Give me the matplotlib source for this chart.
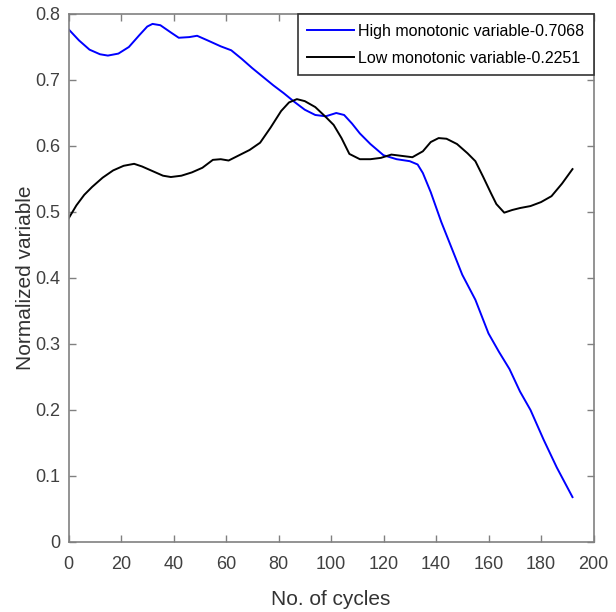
import matplotlib.pyplot as plt

# values
high_x = [0, 4, 8, 12, 15, 19, 23, 27, 30, 32, 35, 39, 42, 46, 49, 53, 58, 62,
          66, 70, 74, 78, 82, 86, 90, 94, 98, 102, 105, 108, 111, 115, 120, 125,
          130, 133, 135, 138, 142, 146, 150, 155, 160, 164, 168, 172, 176, 181,
          186, 192]
high_y = [0.777, 0.760, 0.746, 0.739, 0.737, 0.740, 0.750, 0.768, 0.781, 0.785,
          0.783, 0.772, 0.764, 0.765, 0.767, 0.760, 0.751, 0.745, 0.732, 0.718,
          0.705, 0.692, 0.680, 0.667, 0.655, 0.647, 0.645, 0.650, 0.647, 0.634,
          0.619, 0.603, 0.586, 0.580, 0.577, 0.572, 0.559, 0.530, 0.485, 0.445,
          0.405, 0.367, 0.316, 0.288, 0.262, 0.228, 0.200, 0.155, 0.113, 0.068]

low_x = [0, 3, 6, 9, 13, 17, 21, 25, 28, 32, 36, 39, 43, 47, 51, 55, 58, 61, 65,
         69, 73, 77, 81, 84, 87, 90, 94, 98, 101, 104, 107, 111, 115, 119, 123,
         127, 131, 135, 138, 141, 144, 148, 152, 155, 158, 161, 163, 166, 169,
         172, 176, 180, 184, 188, 192]
low_y = [0.490, 0.510, 0.526, 0.538, 0.552, 0.563, 0.570, 0.573, 0.569, 0.562,
         0.555, 0.553, 0.555, 0.560, 0.567, 0.579, 0.580, 0.578, 0.586, 0.594,
         0.605, 0.628, 0.653, 0.666, 0.671, 0.668, 0.659, 0.644, 0.632, 0.612,
         0.588, 0.580, 0.580, 0.582, 0.587, 0.585, 0.583, 0.592, 0.606, 0.612,
         0.611, 0.603, 0.589, 0.577, 0.553, 0.528, 0.512, 0.499, 0.503, 0.506,
         0.509, 0.515, 0.524, 0.543, 0.565]

x_ticks = [0, 20, 40, 60, 80, 100, 120, 140, 160, 180, 200]
y_ticks = [0, 0.1, 0.2, 0.3, 0.4, 0.5, 0.6, 0.7, 0.8]
y_tick_labels = ['0', '0.1', '0.2', '0.3', '0.4', '0.5', '0.6', '0.7', '0.8']

plt.rcParams['font.family'] = ['Liberation Sans', 'DejaVu Sans']

fig = plt.figure(figsize=(6.16, 6.12), dpi=100)
ax = fig.add_axes([68.5 / 616, 70 / 612, 525 / 616, 528 / 612])

ax.plot(high_x, high_y, color='#0000ff', lw=1.4, label='High monotonic variable-0.7068')
ax.plot(low_x, low_y, color='#000000', lw=1.4, label='Low monotonic variable-0.2251')

ax.set_xlim(0, 200)
ax.set_ylim(0, 0.8)
ax.set_xticks(x_ticks)
ax.set_yticks(y_ticks)
ax.set_yticklabels(y_tick_labels)

for s in ax.spines.values():
    s.set_color('#808080')
    s.set_linewidth(1.2)
ax.tick_params(direction='in', top=True, right=True, length=5, width=1,
               color='#808080', labelcolor='#404040', labelsize=13)
ax.tick_params(axis='x', pad=10)
ax.tick_params(axis='y', pad=6)

ax.set_xlabel('No. of cycles', fontsize=15, color='#333333', labelpad=12)
ax.set_ylabel('Normalized variable', fontsize=15, color='#333333', labelpad=0)

leg = ax.legend(loc='upper right', borderaxespad=0, fancybox=False, fontsize=11.5,
                handlelength=2.9, handletextpad=0.25, borderpad=0.6,
                labelspacing=0.75, framealpha=1)
leg.get_frame().set_edgecolor('#333333')
leg.get_frame().set_linewidth(1.2)

fig.savefig('out.png', dpi=100)
